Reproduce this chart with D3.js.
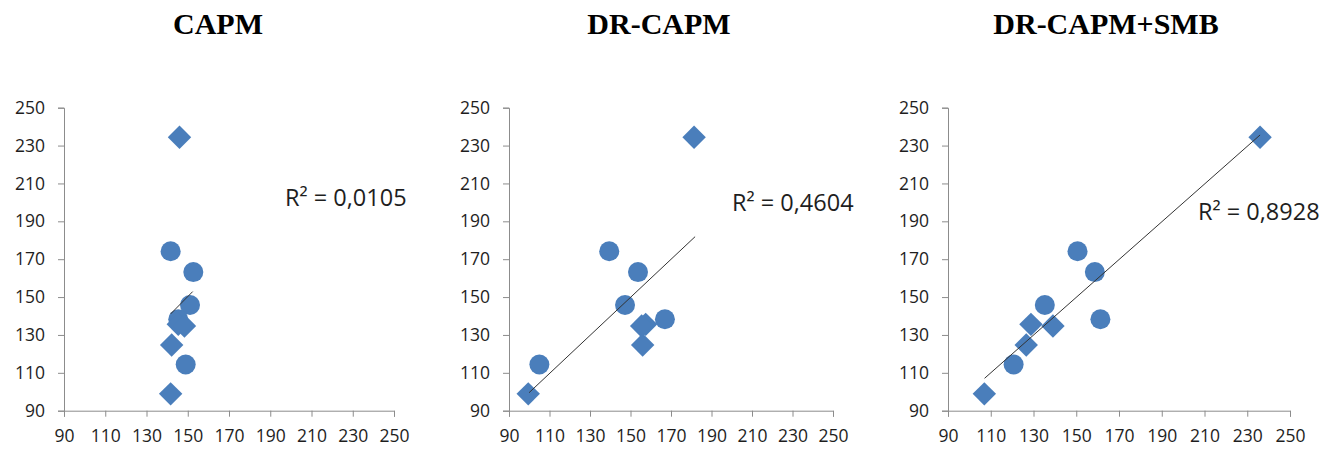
<!DOCTYPE html>
<html>
<head>
<meta charset="utf-8">
<script src="https://cdn.jsdelivr.net/npm/d3@7"></script>
<style>
body { margin: 0; background: #fff; }
.tick text { font-family: "Open Sans", sans-serif; font-size: 17.5px; fill: #1e1e1e; }
.domain, .tick line { stroke: #8c8c8c; }
</style>
</head>
<body>
<script>
// y (actual) is the same for every panel, x is the model's prediction
var titles = ["CAPM", "DR-CAPM", "DR-CAPM+SMB"];
var r2Labels = ["R\u00b2 = 0,0105", "R\u00b2 = 0,4604", "R\u00b2 = 0,8928"];
var shapes = ["diamond", "circle", "circle", "circle", "circle", "diamond", "diamond", "diamond", "circle", "diamond"];
var actual = [234.4, 174.2, 163.2, 145.8, 138.3, 135.6, 134.7, 124.7, 114.4, 98.9];
var capmX = [146, 141.7, 152.7, 151.1, 145.4, 145.4, 148.4, 142.2, 149, 141.7];
var drcapmX = [181.4, 139.5, 153.7, 147.3, 167, 157.5, 155.5, 156, 105, 99.5];
var smbX = [236, 150.6, 158.7, 135.3, 161.3, 128.8, 139.1, 126.6, 120.7, 107];
// trendline end points [x1, y1, x2, y2]
var trends = [[141.7, 141.1, 152.4, 152.9], [99.9, 99.5, 181.9, 181.9], [107.1, 107.1, 236, 235.6]];
var ticks = [90, 110, 130, 150, 170, 190, 210, 230, 250];

var predicted = [capmX, drcapmX, smbX];

// panel geometry
var panels = [
  {left: 64, right: 394, titleX: 218, labelX: 285, labelY: 206},
  {left: 509, right: 833, titleX: 659, labelX: 732, labelY: 211},
  {left: 948, right: 1290, titleX: 1106, labelX: 1198, labelY: 220}
];
var plotTop = 107.7, plotBottom = 410.7;

var svg = d3.select("body")
    .append("svg")
    .attr("width", 1336)
    .attr("height", 452);

var y = d3.scaleLinear().domain([90, 250]).range([plotBottom, plotTop]);

panels.forEach(function(p, i) {
    var x = d3.scaleLinear().domain([90, 250]).range([p.left, p.right]);
    var g = svg.append("g");

    g.append("text")
        .attr("x", p.titleX)
        .attr("y", 34)
        .attr("text-anchor", "middle")
        .style("font-family", "'Liberation Serif', 'Times New Roman', serif")
        .style("font-weight", "bold")
        .style("font-size", "30px")
        .text(titles[i]);

    g.append("g")
        .attr("transform", "translate(0," + plotBottom + ")")
        .call(d3.axisBottom(x).tickValues(ticks).tickSize(6).tickPadding(9))
        .call(function(a) { a.selectAll(".tick text").attr("dy", "0.95em"); });

    g.append("g")
        .attr("transform", "translate(" + p.left + ",0)")
        .call(d3.axisLeft(y).tickValues(ticks).tickSize(6).tickPadding(13));

    var pts = actual.map(function(v, k) {
        return {x: predicted[i][k], y: v, shape: shapes[k]};
    });

    g.selectAll("circle.pt")
        .data(pts.filter(function(d) { return d.shape == "circle"; }))
        .enter()
        .append("circle")
        .attr("class", "pt")
        .attr("cx", function(d) { return x(d.x); })
        .attr("cy", function(d) { return y(d.y); })
        .attr("r", 10)
        .style("fill", "#4a7ebb");

    g.selectAll("path.pt")
        .data(pts.filter(function(d) { return d.shape == "diamond"; }))
        .enter()
        .append("path")
        .attr("class", "pt")
        .attr("d", d3.symbol().type(d3.symbolDiamond2).size(350))
        .attr("transform", function(d) { return "translate(" + x(d.x) + "," + y(d.y) + ")"; })
        .style("fill", "#4a7ebb");

    var t = trends[i];
    g.append("line")
        .attr("x1", x(t[0])).attr("y1", y(t[1]))
        .attr("x2", x(t[2])).attr("y2", y(t[3]))
        .style("stroke", "#333")
        .style("stroke-width", 1);

    g.append("text")
        .attr("x", p.labelX)
        .attr("y", p.labelY)
        .style("font-family", "'Open Sans', sans-serif")
        .style("font-size", "23.5px")
        .style("fill", "#1e1e1e")
        .text(r2Labels[i]);
});
</script>
</body>
</html>
